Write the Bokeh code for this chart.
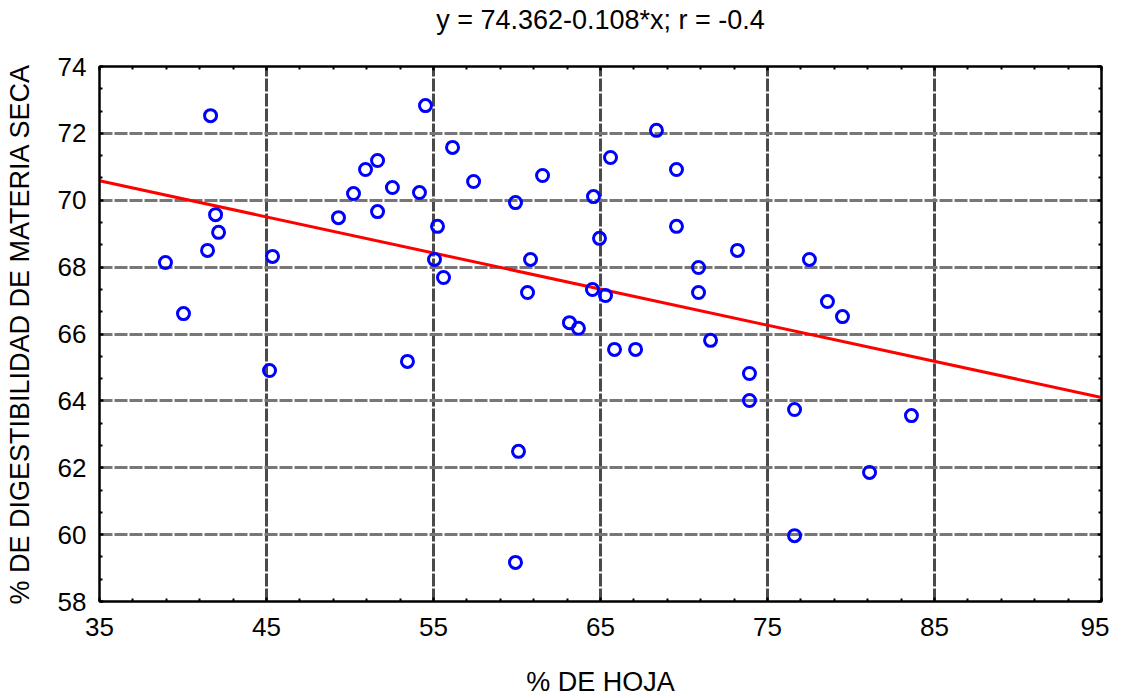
from bokeh.plotting import figure
from bokeh.models import Range1d, FixedTicker, LinearAxis, ColumnDataSource
from bokeh.embed import file_html
from bokeh.resources import INLINE
import numpy as np

hoja = [38.95, 40.03, 41.65, 41.47, 41.95, 42.13, 45.18, 45.36, 49.31, 50.21,
        50.93, 51.65, 51.65, 52.54, 53.44, 54.16, 54.52, 55.06, 55.24, 55.60,
        56.14, 57.40, 59.91, 60.09, 59.91, 60.63, 60.81, 61.53, 63.14, 63.68,
        64.58, 64.52, 64.94, 65.30, 65.60, 65.84, 67.10, 68.35, 69.55, 69.55,
        70.87, 70.87, 71.59, 73.20, 73.92, 73.92, 76.62, 76.62, 77.51, 78.59,
        79.49, 81.11, 83.62]
digest = [68.14, 66.61, 72.53, 68.50, 69.57, 69.04, 64.91, 68.32, 69.48, 70.20,
          70.92, 71.19, 69.66, 70.38, 65.18, 70.23, 72.83, 68.23, 69.22, 67.69,
          71.58, 70.56, 69.93, 62.49, 59.17, 67.24, 68.23, 70.74, 66.34, 66.17,
          70.11, 67.33, 68.86, 67.15, 71.28, 65.54, 65.54, 72.09, 69.22, 70.92,
          67.99, 67.24, 65.81, 68.50, 64.82, 64.01, 63.74, 59.97, 68.23, 66.97,
          66.52, 61.86, 63.56]
intercept = 74.362
slope = -0.108
x_range = [35, 95]
y_range = [58, 74]
x_ticks = [35, 45, 55, 65, 75, 85, 95]
y_ticks = [58, 60, 62, 64, 66, 68, 70, 72, 74]
title_text = "y = 74.362-0.108*x; r = -0.4"
x_label = "% DE HOJA"
y_label = "% DE DIGESTIBILIDAD DE MATERIA SECA"

FONT = "Liberation Sans"

x_minor = list(np.arange(x_range[0], x_range[1] + 0.01, 2.0))
y_minor = list(np.linspace(y_range[0], y_range[1], 25))

p = figure(frame_width=1002, frame_height=535, output_backend="svg", toolbar_location=None,
           title=None,
           x_range=Range1d(*x_range), y_range=Range1d(*y_range),
           min_border_left=99, min_border_right=8, min_border_top=66, min_border_bottom=92,
           background_fill_color="white", border_fill_color="white")

xt = FixedTicker(ticks=x_ticks, minor_ticks=x_minor)
yt = FixedTicker(ticks=y_ticks, minor_ticks=y_minor)
p.xaxis.ticker = xt
p.yaxis.ticker = yt
p.xgrid.ticker = xt
p.ygrid.ticker = yt

def style_axis(ax):
    ax.axis_line_color = "black"
    ax.axis_line_width = 2
    ax.major_tick_in = 4
    ax.major_tick_out = 0
    ax.minor_tick_in = 3
    ax.minor_tick_out = 0
    ax.major_tick_line_color = "black"
    ax.major_tick_line_width = 2
    ax.minor_tick_line_color = "black"
    ax.minor_tick_line_width = 2

for ax in (p.xaxis[0], p.yaxis[0]):
    style_axis(ax)
    ax.major_label_text_font = FONT
    ax.major_label_text_font_size = "26px"
    ax.major_label_text_color = "black"
    ax.axis_label_text_font = FONT
    ax.axis_label_text_font_size = "27px"
    ax.axis_label_text_font_style = "normal"
    ax.axis_label_text_color = "black"

p.xaxis.axis_label = x_label
p.yaxis.axis_label = y_label
p.xaxis.major_label_standoff = 16
p.yaxis.major_label_standoff = 13
p.xaxis.axis_label_standoff = 28
p.yaxis.axis_label_standoff = 20

for loc, tick in (("above", xt), ("right", yt)):
    ax = LinearAxis(ticker=tick)
    style_axis(ax)
    ax.major_label_text_font_size = "0px"
    ax.major_label_standoff = 0
    if loc == "above":
        ax.axis_label = title_text
        ax.axis_label_text_font = FONT
        ax.axis_label_text_font_size = "27px"
        ax.axis_label_text_font_style = "normal"
        ax.axis_label_text_color = "black"
        ax.axis_label_standoff = 32
    p.add_layout(ax, loc)

p.xgrid.grid_line_color = "#4a4a4a"
p.xgrid.grid_line_width = 3
p.xgrid.grid_line_dash = "13 2"
p.ygrid.grid_line_color = "#777777"
p.ygrid.grid_line_width = 3
p.ygrid.grid_line_dash = "13 2"

p.outline_line_color = "black"
p.outline_line_width = 2

lx = np.array(x_range, dtype=float)
p.line(lx, intercept + slope * lx, line_color="red", line_width=3)

src = ColumnDataSource(dict(x=hoja, y=digest))
p.scatter("x", "y", source=src, marker="circle", size=12, fill_color=None,
          line_color="blue", line_width=3)

open("out.html", "w").write(file_html(p, INLINE))
